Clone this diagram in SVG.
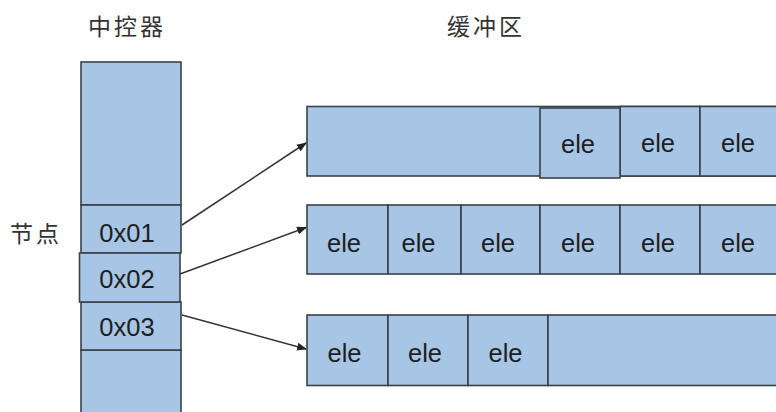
<svg xmlns="http://www.w3.org/2000/svg" width="776" height="412" viewBox="0 0 776 412">
<style>
.c{fill:#a7c5e5;stroke:#3b4049;stroke-width:1.6}
.t{font-family:"Liberation Sans",Arial,sans-serif;font-size:25.5px;fill:#1e1e1e;text-anchor:middle}
.h{font-family:"Noto Sans CJK SC","Liberation Sans",sans-serif;font-size:23px;fill:#333;letter-spacing:3px}
.k{fill:none;stroke:#333;stroke-width:1.5}
</style>
<defs>
<marker id="a" markerWidth="10" markerHeight="8" refX="9" refY="4" orient="auto" markerUnits="userSpaceOnUse">
<path d="M0,0 L10,4 L0,8 Z" fill="#222"/>
</marker>
</defs>
<text class="h" x="88" y="35">中控器</text>
<text class="h" x="447" y="35">缓冲区</text>
<text class="h" x="10" y="242">节点</text>
<g id="controller">
<rect class="c" x="81" y="62" width="100" height="143"/>
<rect class="c" x="81" y="350" width="100" height="70"/>
</g>
<g id="node1"><rect class="c" x="81" y="205" width="100" height="48"/><text class="t" x="127" y="242">0x01</text></g>
<g id="node3"><rect class="c" x="81" y="302" width="100" height="48"/><text class="t" x="127" y="335.5">0x03</text></g>
<g id="node2"><rect class="c" x="79.5" y="253" width="100.5" height="49"/><text class="t" x="127" y="287.5">0x02</text></g>
<g id="buffer1">
<rect class="c" x="307" y="106.5" width="480" height="69.5"/>
<rect class="c" x="620" y="106.5" width="80" height="69.5"/>
<rect class="c" x="700" y="106.5" width="90" height="69.5"/>
<rect class="c" x="540" y="108" width="80" height="70"/>
<text class="t" x="578" y="153">ele</text>
<text class="t" x="658" y="152">ele</text>
<text class="t" x="738" y="152">ele</text>
</g>
<g id="buffer2">
<rect class="c" x="307" y="205" width="81" height="69"/>
<rect class="c" x="388" y="205" width="73" height="69"/>
<rect class="c" x="461" y="205" width="79" height="69"/>
<rect class="c" x="540" y="205" width="80" height="69"/>
<rect class="c" x="620" y="205" width="80" height="69"/>
<rect class="c" x="700" y="205" width="90" height="69"/>
<text class="t" x="344" y="251.5">ele</text>
<text class="t" x="418.5" y="251.5">ele</text>
<text class="t" x="498" y="251.5">ele</text>
<text class="t" x="578" y="251.5">ele</text>
<text class="t" x="658" y="251.5">ele</text>
<text class="t" x="738" y="251.5">ele</text>
</g>
<g id="buffer3">
<rect class="c" x="307" y="315" width="81" height="70.5"/>
<rect class="c" x="388" y="315" width="80" height="70.5"/>
<rect class="c" x="468" y="315" width="80" height="70.5"/>
<rect class="c" x="548" y="315" width="242" height="70.5"/>
<text class="t" x="344.5" y="361.5">ele</text>
<text class="t" x="425" y="361.5">ele</text>
<text class="t" x="505.5" y="361.5">ele</text>
</g>
<g id="connectors">
<line class="k" x1="182" y1="225" x2="306" y2="143" marker-end="url(#a)"/>
<line class="k" x1="180" y1="274" x2="306" y2="227.5" marker-end="url(#a)"/>
<line class="k" x1="182" y1="315" x2="306" y2="349" marker-end="url(#a)"/>
</g>
</svg>
